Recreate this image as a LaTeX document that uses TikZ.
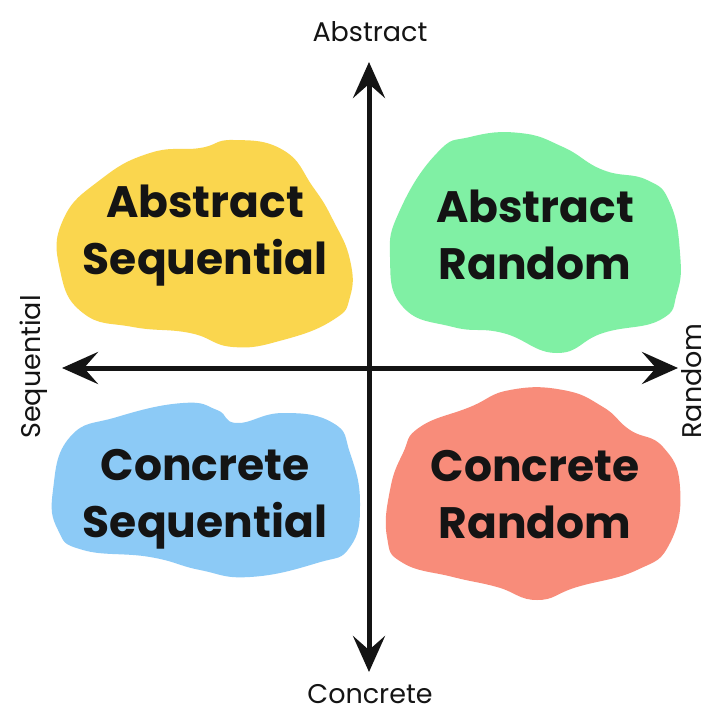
\documentclass[tikz,border=0pt]{standalone}
\usepackage{fontspec}
\setmainfont{Poppins}
\usetikzlibrary{arrows.meta}
\definecolor{cyellow}{RGB}{250,214,78}
\definecolor{cgreen}{RGB}{128,240,164}
\definecolor{cblue}{RGB}{140,202,246}
\definecolor{cred}{RGB}{248,140,122}
\definecolor{ink}{RGB}{20,20,20}
\begin{document}
\begin{tikzpicture}[x=1pt,y=-1pt,
  bigtext/.style={align=center,text=ink,font=\fontsize{44}{57}\selectfont\bfseries,inner sep=0pt},
  axlabel/.style={text=ink,font=\fontsize{27}{30}\selectfont,inner sep=0pt},
  axis/.style={line width=5pt,ink,{Stealth[length=36pt,width=32pt,inset=14pt]}-{Stealth[length=36pt,width=32pt,inset=14pt]}}]
\useasboundingbox (0,0) rectangle (710,714);
\fill[white] (0,0) rectangle (710,714);
% blobs
\fill[cyellow] plot[smooth cycle,tension=0.8] coordinates {(100,180) (150,153) (200,148) (233,140) (283,150) (313,187) (333,220) (350,260) (350,297) (333,320) (283,340) (233,347) (190,333) (133,327) (83,313) (60,270) (63,220)};
\fill[cgreen] plot[smooth cycle,tension=0.8] coordinates {(437,153) (470,137) (520,133) (563,147) (603,170) (647,180) (670,203) (680,253) (677,293) (660,320) (603,333) (557,353) (503,333) (453,327) (403,307) (390,257) (400,210)};
\fill[cblue] plot[smooth cycle,tension=0.8] coordinates {(70,437) (117,417) (183,403) (217,410) (237,423) (283,413) (333,423) (350,453) (360,503) (350,547) (317,563) (250,577) (200,570) (150,557) (83,550) (58,530) (53,490)};
\fill[cred] plot[smooth cycle,tension=0.8] coordinates {(403,453) (420,427) (470,407) (510,390) (563,390) (603,407) (630,430) (663,447) (680,487) (670,543) (637,570) (577,587) (537,600) (497,587) (453,577) (403,563) (387,537) (390,490)};
% axes
\coordinate (top) at (369,62);
\coordinate (bot) at (369,672);
\coordinate (lft) at (62,368);
\coordinate (rgt) at (678,368);
\draw[axis] (bot) -- (top);
\draw[axis] (lft) -- (rgt);
% quadrant texts
\node[bigtext] (as) at (205,236) {Abstract\\Sequential};
\node[bigtext] (ar) at (535,235) {Abstract\\Random};
\node[bigtext] (cs) at (205,499) {Concrete\\Sequential};
\node[bigtext] (cr) at (535,495) {Concrete\\Random};
% axis labels
\node[axlabel] (la) at (370,32) {Abstract};
\node[axlabel] (lc) at (370,694) {Concrete};
\node[axlabel,rotate=90] (ls) at (34,367) {Sequential};
\node[axlabel,rotate=90] (lr) at (692,381) {Random};
\end{tikzpicture}
\end{document}
